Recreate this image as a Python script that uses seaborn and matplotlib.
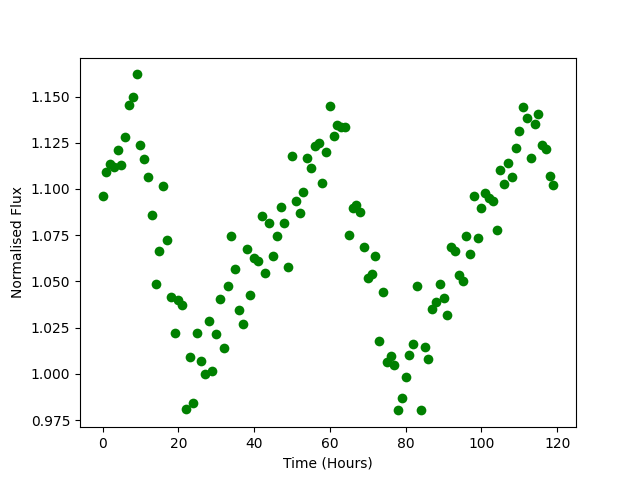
import numpy as np
import pandas as pd
import matplotlib
matplotlib.use("Agg")
import matplotlib.pyplot as plt
import seaborn as sns

# hourly samples
hours = np.arange(120)
flux = [
    1.096, 1.109, 1.1137, 1.1117, 1.121, 1.113, 1.128, 1.1455, 1.150, 1.162,
    1.124, 1.116, 1.1065, 1.086, 1.0485, 1.0667, 1.1016, 1.0723, 1.0415, 1.022,
    1.040, 1.0371, 0.9807, 1.0093, 0.984, 1.022, 1.0069, 0.9997, 1.0284, 1.0013,
    1.0214, 1.0403, 1.0138, 1.0476, 1.0745, 1.0566, 1.0344, 1.027, 1.0675, 1.0427,
    1.0626, 1.0613, 1.0854, 1.0545, 1.0816, 1.0637, 1.0745, 1.0902, 1.0816, 1.0579,
    1.1179, 1.0935, 1.087, 1.0984, 1.1166, 1.1114, 1.1235, 1.1249, 1.1032, 1.120,
    1.145, 1.1289, 1.1348, 1.1334, 1.1334, 1.0752, 1.0898, 1.0915, 1.0875, 1.0687,
    1.052, 1.0539, 1.0637, 1.0178, 1.0442, 1.0064, 1.0096, 1.0046, 0.9802, 0.9867,
    0.9981, 1.010, 1.016, 1.0476, 0.9802, 1.0144, 1.008, 1.035, 1.0388, 1.0487,
    1.0411, 1.0319, 1.0686, 1.0667, 1.0535, 1.0503, 1.0745, 1.0648, 1.0962, 1.0734,
    1.0896, 1.0976, 1.0949, 1.0935, 1.0778, 1.1103, 1.1027, 1.1141, 1.1065, 1.1222,
    1.1314, 1.1444, 1.1385, 1.1168, 1.1352, 1.1406, 1.124, 1.1217, 1.107, 1.1022,
]

df = pd.DataFrame({"Time": hours, "Flux": flux})

fig, ax = plt.subplots(figsize=(6.4, 4.8), dpi=100)
sns.scatterplot(data=df, x="Time", y="Flux", color="green", s=49,
                linewidth=0, ax=ax)
ax.set_xlabel("Time (Hours)")
ax.set_ylabel("Normalised Flux")
fig.savefig("out.png")
